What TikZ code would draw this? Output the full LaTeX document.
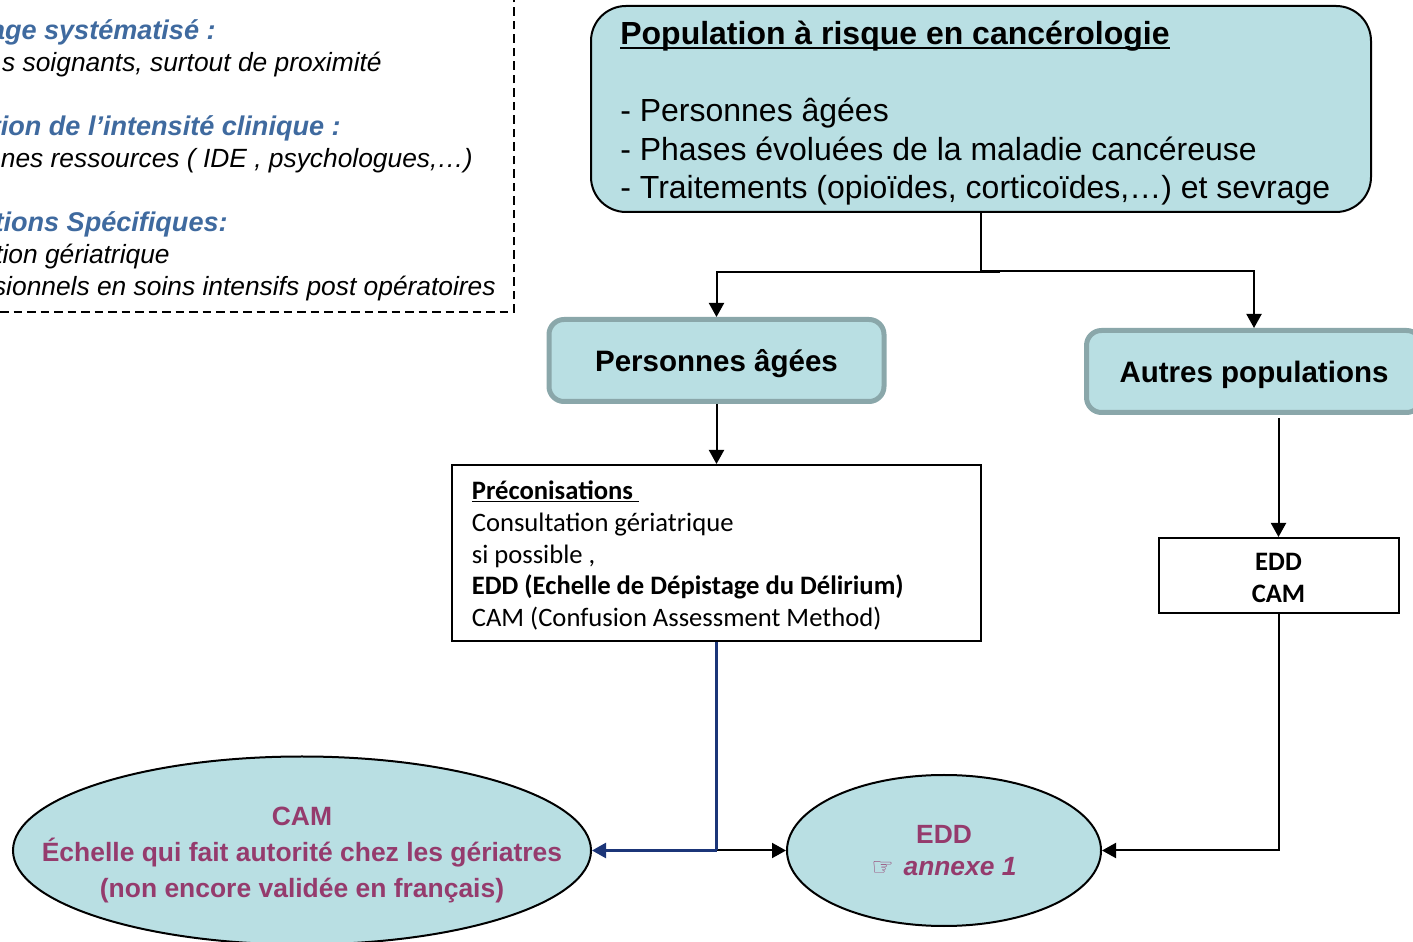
\documentclass[tikz,border=0pt]{standalone}
\usepackage{fontspec}
\setmainfont{Liberation Sans}
\newfontfamily\carlito{Carlito}
\newfontfamily\dejavu{DejaVu Sans}
\usetikzlibrary{arrows.meta,shapes.geometric}
\def\thickuline#1{\setbox0=\hbox{#1}\rlap{\rule[-2.6pt]{\wd0}{1.2pt}}\box0}
\definecolor{tealfill}{HTML}{B9DFE3}
\definecolor{tealedge}{HTML}{8AA7AA}
\definecolor{headblue}{HTML}{3F6A9F}
\definecolor{plum}{HTML}{953B6D}
\definecolor{navy}{HTML}{1B3578}
\tikzset{
	arrow/.style={line width=0.04cm, -{Triangle[length=0.28cm,width=0.3cm]}},
	head/.style={anchor=base east, inner sep=0, font=\fontsize{15.4}{18}\selectfont\bfseries\itshape, text=headblue},
	note/.style={anchor=base east, inner sep=0, font=\fontsize{15}{18}\selectfont\itshape},
	catbox/.style={draw=tealedge, line width=0.1cm, fill=tealfill, rounded corners=0.3cm, text depth=0pt, font=\fontsize{16.8}{20}\selectfont\bfseries},
	plainbox/.style={draw, line width=0.04cm, fill=white, inner sep=0, font=\carlito\fontsize{15.15}{18.2}\selectfont},
	oval/.style={draw, line width=0.04cm, ellipse, fill=tealfill, inner sep=0},
	ovaltext/.style={inner sep=0, text=plum, align=center, font=\fontsize{15.05}{20.5}\selectfont\bfseries}
}

\begin{document}
\begin{tikzpicture}
	%%%%% START %%%%%
	\useasboundingbox (0, 0) rectangle (28.26, 18.82);

	% legend at the top left, cut by the page
	\draw[line width=0.04cm, dash pattern=on 0.17cm off 0.1cm] (0, 12.58) -- (10.28, 12.58) -- (10.28, 18.82);
	\node[head] (l1) at (4.32, 18.03) {age systématisé :};
	\node[note] (l2) at (7.64, 17.38) {s soignants, surtout de proximité};
	\node[head] (l3) at (6.82, 16.11) {tion de l’intensité clinique :};
	\node[note] (l4) at (9.46, 15.46) {nes ressources ( IDE , psychologues,…)};
	\node[head] (l5) at (4.56, 14.19) {tions Spécifiques:};
	\node[note] (l6) at (3.40, 13.54) {tion gériatrique};
	\node[note] (l7) at (9.92, 12.90) {sionnels en soins intensifs post opératoires};

	% boxes
	\node[draw, line width=0.04cm, fill=tealfill, rounded corners=0.7cm, minimum width=15.6cm, minimum height=4.12cm, inner sep=0] (risk) at (19.62, 16.64) {};
	\node[anchor=north west, inner sep=0, align=left, font=\fontsize{18.2}{21.9}\selectfont] (risktext) at (12.40, 18.40) {{\bfseries\thickuline{Population à risque en cancérologie}}\\[21.9pt]- Personnes âgées\\- Phases évoluées de la maladie cancéreuse\\- Traitements (opioïdes, corticoïdes,…) et sevrage};

	\node[catbox, minimum width=6.7cm, minimum height=1.64cm] (aged) at (14.33, 11.61) {Personnes âgées};
	\node[catbox, minimum width=6.7cm, minimum height=1.64cm] (other) at (25.08, 11.39) {Autres populations};

	\node[plainbox, minimum width=10.58cm, minimum height=3.52cm] (advice) at (14.33, 7.76) {};
	\node[anchor=west, inner sep=0, align=left, font=\carlito\fontsize{15.15}{18.2}\selectfont] (advicetext) at (9.43, 7.71) {{\bfseries\underline{Préconisations }}\\Consultation gériatrique\\si possible ,\\{\bfseries EDD (Echelle de Dépistage du Délirium)}\\CAM (Confusion Assessment Method)};

	\node[plainbox, minimum width=4.8cm, minimum height=1.5cm] (scales) at (25.57, 7.31) {};
	\node[inner sep=0, align=center, font=\carlito\fontsize{15.15}{18.2}\selectfont\bfseries] (scalestext) at (25.57, 7.27) {EDD\\CAM};

	\node[oval, minimum width=11.56cm, minimum height=3.76cm] (cam) at (6.04, 1.81) {};
	\node[ovaltext] (camtext) at (6.04, 1.72) {CAM\\Échelle qui fait autorité chez les gériatres\\(non encore validée en français)};
	\node[oval, minimum width=6.28cm, minimum height=3.02cm] (edd) at (18.88, 1.81) {};
	\node[ovaltext, font=\fontsize{15}{18.2}\selectfont\bfseries] (eddtext) at (18.88, 1.81) {EDD\\{\dejavu\mdseries\fontsize{14}{14}\selectfont ☞}\hspace{0.2cm}{\itshape annexe 1}};

	% connectors
	\coordinate (forkl) at (20.00, 13.38);
	\coordinate (forkr) at (19.62, 13.40);
	\coordinate (otherend) at (25.57, 10.46);
	\coordinate (meet) at (14.33, 1.81);

	\draw[line width=0.04cm] (risk.south) -- (forkr);
	\draw[arrow] (forkl) -| (aged.north);
	\draw[arrow] (forkr) -| (other.north);
	\draw[arrow] (aged.south) -- (advice.north);
	\draw[arrow] (otherend) -- (scales.north);
	\draw[arrow] (scales.south) |- (edd.east);
	\draw[arrow] (meet) -- (edd.west);
	\draw[line width=0.05cm, color=navy] (advice.south) -- (meet);
	\draw[arrow, line width=0.05cm, color=navy] (meet) -- (cam.east);
	%%%%% END %%%%%
\end{tikzpicture}
\end{document}
